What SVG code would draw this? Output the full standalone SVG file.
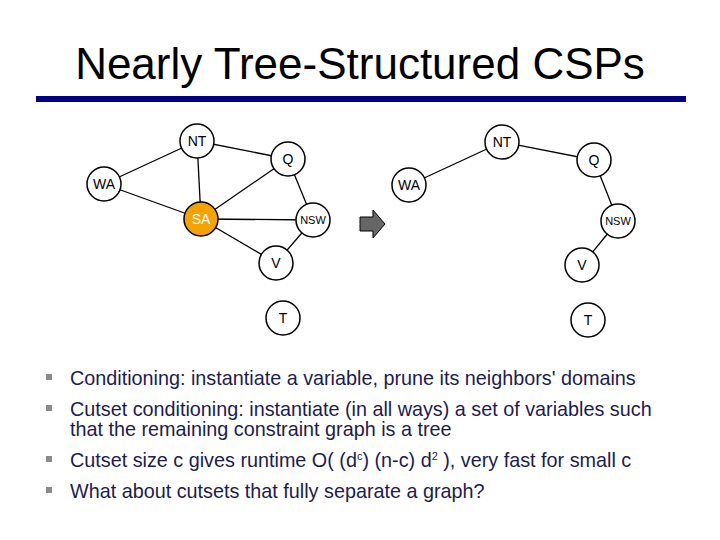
<svg xmlns="http://www.w3.org/2000/svg" width="720" height="540" viewBox="0 0 720 540">
<style>
.n circle{fill:#fff;stroke:#000;stroke-width:1.5}
.n text{font-family:"Liberation Sans",Arial,sans-serif;font-size:14px;text-anchor:middle;dominant-baseline:central;fill:#000}
.e line{stroke:#000;stroke-width:1.3}
.b{font-family:"Liberation Sans",Arial,sans-serif;font-size:19.8px;fill:#1c1c50}
.bl{fill:#8a8a8a}
</style>
<rect width="720" height="540" fill="#fff"/>
<text x="360" y="79" text-anchor="middle" font-family="Liberation Sans,Arial,sans-serif" font-size="44" fill="#000">Nearly Tree-Structured CSPs</text>
<rect x="36" y="96" width="650" height="6" fill="#000080"/>
<g class="e" id="connectors">
<line x1="197" y1="141" x2="104" y2="184"/><line x1="197" y1="141" x2="288" y2="159"/>
<line x1="197" y1="141" x2="201" y2="219"/><line x1="104" y1="184" x2="201" y2="219"/>
<line x1="288" y1="159" x2="201" y2="219"/><line x1="288" y1="159" x2="313" y2="220"/>
<line x1="201" y1="219" x2="313" y2="220"/><line x1="201" y1="219" x2="276" y2="263"/>
<line x1="313" y1="220" x2="276" y2="263"/>
<line x1="502" y1="142" x2="409" y2="185"/><line x1="502" y1="142" x2="594" y2="160"/>
<line x1="594" y1="160" x2="618" y2="221"/><line x1="618" y1="221" x2="582" y2="265"/>
</g>
<g class="n" id="NT"><circle cx="197" cy="141" r="17"/><text x="197" y="141">NT</text></g>
<g class="n" id="Q"><circle cx="288" cy="159" r="17"/><text x="288" y="159">Q</text></g>
<g class="n" id="WA"><circle cx="104" cy="184" r="17"/><text x="104" y="184">WA</text></g>
<g class="n" id="SA"><circle cx="201" cy="219" r="17" style="fill:#f5a300"/><text x="201" y="219" style="fill:#fff">SA</text></g>
<g class="n" id="NSW"><circle cx="313" cy="220" r="17"/><text x="313" y="220" style="font-size:11px">NSW</text></g>
<g class="n" id="V"><circle cx="276" cy="263" r="17"/><text x="276" y="263">V</text></g>
<g class="n" id="T"><circle cx="283" cy="318" r="17"/><text x="283" y="318">T</text></g>
<g class="n" id="NT2"><circle cx="502" cy="142" r="17"/><text x="502" y="142">NT</text></g>
<g class="n" id="Q2"><circle cx="594" cy="160" r="17"/><text x="594" y="160">Q</text></g>
<g class="n" id="WA2"><circle cx="409" cy="185" r="17"/><text x="409" y="185">WA</text></g>
<g class="n" id="NSW2"><circle cx="618" cy="221" r="17"/><text x="618" y="221" style="font-size:11px">NSW</text></g>
<g class="n" id="V2"><circle cx="582" cy="265" r="17"/><text x="582" y="265">V</text></g>
<g class="n" id="T2"><circle cx="588" cy="320" r="17"/><text x="588" y="320">T</text></g>
<polygon id="arrow" points="360,217 373,217 373,210 385,224 373,238 373,231 360,231" fill="#666" stroke="#000" stroke-width="1"/>
<g id="bullets">
<rect class="bl" x="46" y="374" width="6" height="6"/><text class="b" x="70" y="385">Conditioning: instantiate a variable, prune its neighbors' domains</text>
<rect class="bl" x="46" y="405" width="6" height="6"/><text class="b" x="70" y="416">Cutset conditioning: instantiate (in all ways) a set of variables such</text>
<text class="b" x="70" y="436">that the remaining constraint graph is a tree</text>
<rect class="bl" x="46" y="456" width="6" height="6"/><text class="b" x="70" y="467">Cutset size c gives runtime O( (d<tspan font-size="11" dy="-7">c</tspan><tspan dy="7">) (n-c) d</tspan><tspan font-size="11" dy="-7">2</tspan><tspan dy="7"> ), very fast for small c</tspan></text>
<rect class="bl" x="46" y="487" width="6" height="6"/><text class="b" x="70" y="498">What about cutsets that fully separate a graph?</text>
</g>
</svg>
